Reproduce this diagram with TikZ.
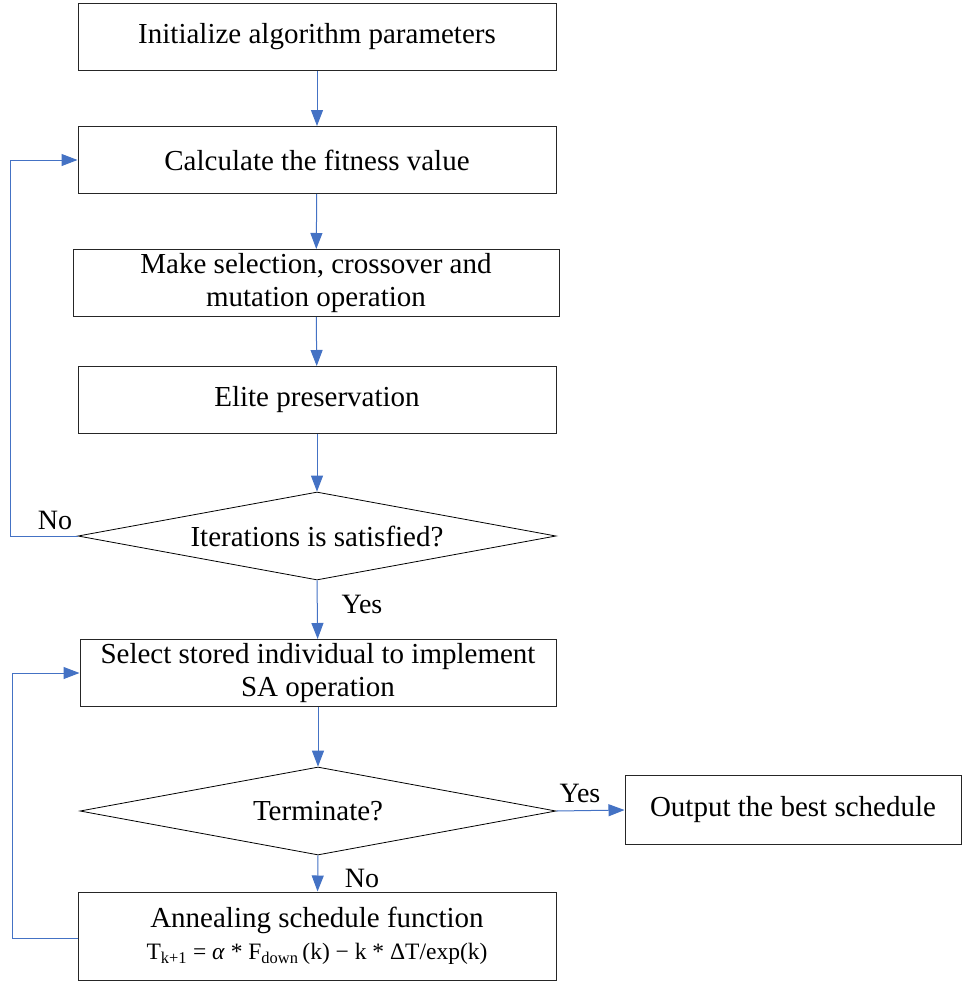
\documentclass[tikz,border=0pt]{standalone}
\usepackage{fontspec}
\setmainfont{Liberation Serif}
\usetikzlibrary{shapes.geometric,arrows.meta,positioning,calc}

\definecolor{flowblue}{RGB}{68,114,196}

\tikzset{
  stepbox/.style={draw=black!85, line width=1pt, rectangle, inner sep=2pt, align=center, font=\fontsize{29}{33}\selectfont},
  decide/.style={draw=black, line width=0.8pt, diamond, aspect=5.4, inner sep=0pt, font=\fontsize{29}{33}\selectfont},
  flow/.style={draw=flowblue, line width=1pt, -{Triangle[length=16pt,width=12pt]}, color=flowblue},
  lbl/.style={font=\fontsize{28}{30}\selectfont}
}

\begin{document}
\begin{tikzpicture}[x=1pt,y=1pt]
  \useasboundingbox (0,0) rectangle (962,-985);

  % main chain
  \node[stepbox, minimum width=478pt, minimum height=67pt] (init) at (317,-37) {Initialize algorithm parameters};
  \node[stepbox, minimum width=478pt, minimum height=67pt] (fit) at (317,-160) {Calculate the fitness value};
  \node[stepbox, minimum width=486pt, minimum height=67pt] (sel) at (316,-283) {Make selection, crossover and\\mutation operation};
  \node[stepbox, minimum width=478pt, minimum height=67pt] (elite) at (317,-400) {Elite preservation};
  \node[decide, minimum width=478pt, minimum height=88pt] (iter) at (317,-536) {Iterations is satisfied?};
  \node[stepbox, minimum width=476pt, minimum height=67pt] (sa) at (318,-673) {Select stored individual to implement\\SA operation};
  \node[decide, minimum width=476pt, minimum height=88pt] (term) at (318,-811) {Terminate?};
  \node[stepbox, minimum width=336pt, minimum height=69pt] (out) at (793,-810) {Output the best schedule};
  \node[stepbox, minimum width=478pt, minimum height=88pt] (anneal) at (317,-936) {Annealing schedule function\\[-1pt]
    {\fontsize{23.5}{26}\selectfont T\textsubscript{k+1} = \textit{α} * F\textsubscript{down}\,(k) − k * ΔT/exp(k)}};

  \coordinate (loopa) at (10,-536);
  \coordinate (loopb) at (12,-938);

  % arrows
  \draw[flow] (init) -- (fit);
  \draw[flow] (fit) -- (sel);
  \draw[flow] (sel) -- (elite);
  \draw[flow] (elite) -- (iter.north);
  \draw[flow] (iter.west) -- (loopa) |- (fit.west);
  \node[lbl] (noa) at (55,-520) {No};
  \draw[flow] (iter.south) -- (sa);
  \node[lbl] (yesa) at (362,-604) {Yes};
  \draw[flow] (sa) -- (term.north);
  \draw[flow] (term.east) -- (out.west);
  \node[lbl] (yesb) at (580,-793) {Yes};
  \draw[flow] (term.south) -- (anneal);
  \node[lbl] (nob) at (362,-878) {No};
  \draw[flow] (anneal.west |- loopb) -- (loopb) |- (sa.west);
\end{tikzpicture}
\end{document}
